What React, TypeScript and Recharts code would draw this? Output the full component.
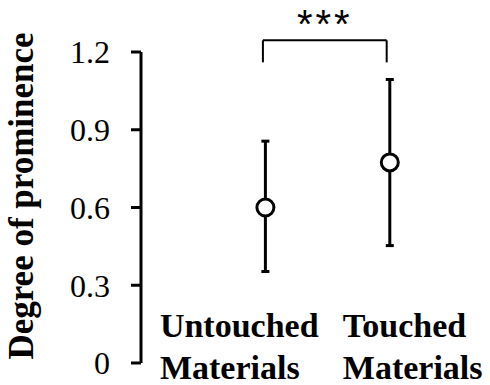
import { ScatterChart, Scatter, XAxis, YAxis, ErrorBar, ReferenceLine, Label } from 'recharts'

// category names, x positions on the numeric axis, means and error bounds
const categories = ['Untouched Materials', 'Touched Materials']
const positions = [1, 2]
const means = [0.6, 0.774]
const lowerBounds = [0.353, 0.453]
const upperBounds = [0.856, 1.094]
const yTicks = [0, 0.3, 0.6, 0.9, 1.2]

// significance bracket (data units)
const bracketX = [0.98, 1.975]
const bracketTop = 1.245
const bracketBottom = 1.16
const significance = '***'

const data = categories.map((name, i) => ({
  name,
  x: positions[i],
  y: means[i],
  err: [means[i] - lowerBounds[i], upperBounds[i] - means[i]],
}))

const SERIF = 'Liberation Serif, serif'
const SANS = 'Liberation Sans, sans-serif'
const LABEL_SHIFT = [-105.5, -47]

function CategoryTick(props: any) {
  const { x, y, payload } = props
  const i = positions.indexOf(payload.value)
  if (i < 0) return null
  const [first, second] = categories[i].split(' ')
  const lx = x + LABEL_SHIFT[i]
  return (
    <text x={lx} y={y} style={{ fontFamily: SERIF, fontWeight: 'bold', fontSize: 34 }} fill="#000">
      <tspan x={lx} dy={-26}>{first}</tspan>
      <tspan x={lx} dy={42}>{second}</tspan>
    </text>
  )
}

function YTitle() {
  return (
    <text
      x={33}
      y={196}
      transform="rotate(-90, 33, 196)"
      textAnchor="middle"
      style={{ fontFamily: SERIF, fontWeight: 'bold', fontSize: 35 }}
      fill="#000"
    >
      Degree of prominence
    </text>
  )
}

function Stars(props: any) {
  const { viewBox } = props
  const cx = viewBox.x + viewBox.width / 2
  return (
    <text
      x={cx}
      y={viewBox.y - 2}
      textAnchor="middle"
      style={{ fontFamily: SANS, fontSize: 40, letterSpacing: 3 }}
      fill="#000"
    >
      {significance}
    </text>
  )
}

function OpenCircle(props: any) {
  const { cx, cy } = props
  return <circle cx={cx} cy={cy} r={8.5} fill="#fff" stroke="#000" strokeWidth={3} />
}

export default function App() {
  return (
    <div style={{ position: 'absolute', left: 0, top: 0, width: 490, height: 385, background: '#fff' }}>
      <ScatterChart width={490} height={385} margin={{ top: 52, right: 38, bottom: 0, left: 0 }}>
        <XAxis
          type="number"
          dataKey="x"
          domain={[0, 2.5]}
          ticks={positions}
          axisLine={false}
          tickLine={false}
          tickSize={0}
          tickMargin={0}
          height={22}
          tick={<CategoryTick />}
          interval={0}
        />
        <YAxis
          type="number"
          dataKey="y"
          domain={[0, 1.2]}
          ticks={yTicks}
          width={141}
          tickSize={10}
          tickMargin={21}
          axisLine={{ stroke: '#000', strokeWidth: 3 }}
          tickLine={{ stroke: '#000', strokeWidth: 3 }}
          tick={{ fill: '#000', fontSize: 32, style: { fontFamily: SERIF } }}
          tickFormatter={(v: number) => String(v)}
        >
          <Label content={<YTitle />} />
        </YAxis>
        <ReferenceLine
          segment={[{ x: bracketX[0], y: bracketTop }, { x: bracketX[1], y: bracketTop }]}
          stroke="#000"
          strokeWidth={2}
          ifOverflow="visible"
          label={<Stars />}
        />
        <ReferenceLine
          segment={[{ x: bracketX[0], y: bracketTop }, { x: bracketX[0], y: bracketBottom }]}
          stroke="#000"
          strokeWidth={2}
          ifOverflow="visible"
        />
        <ReferenceLine
          segment={[{ x: bracketX[1], y: bracketTop }, { x: bracketX[1], y: bracketBottom }]}
          stroke="#000"
          strokeWidth={2}
          ifOverflow="visible"
        />
        <Scatter data={data} shape={<OpenCircle />} isAnimationActive={false}>
          <ErrorBar dataKey="err" direction="y" width={4} stroke="#000" strokeWidth={3} isAnimationActive={false} />
        </Scatter>
      </ScatterChart>
    </div>
  )
}
